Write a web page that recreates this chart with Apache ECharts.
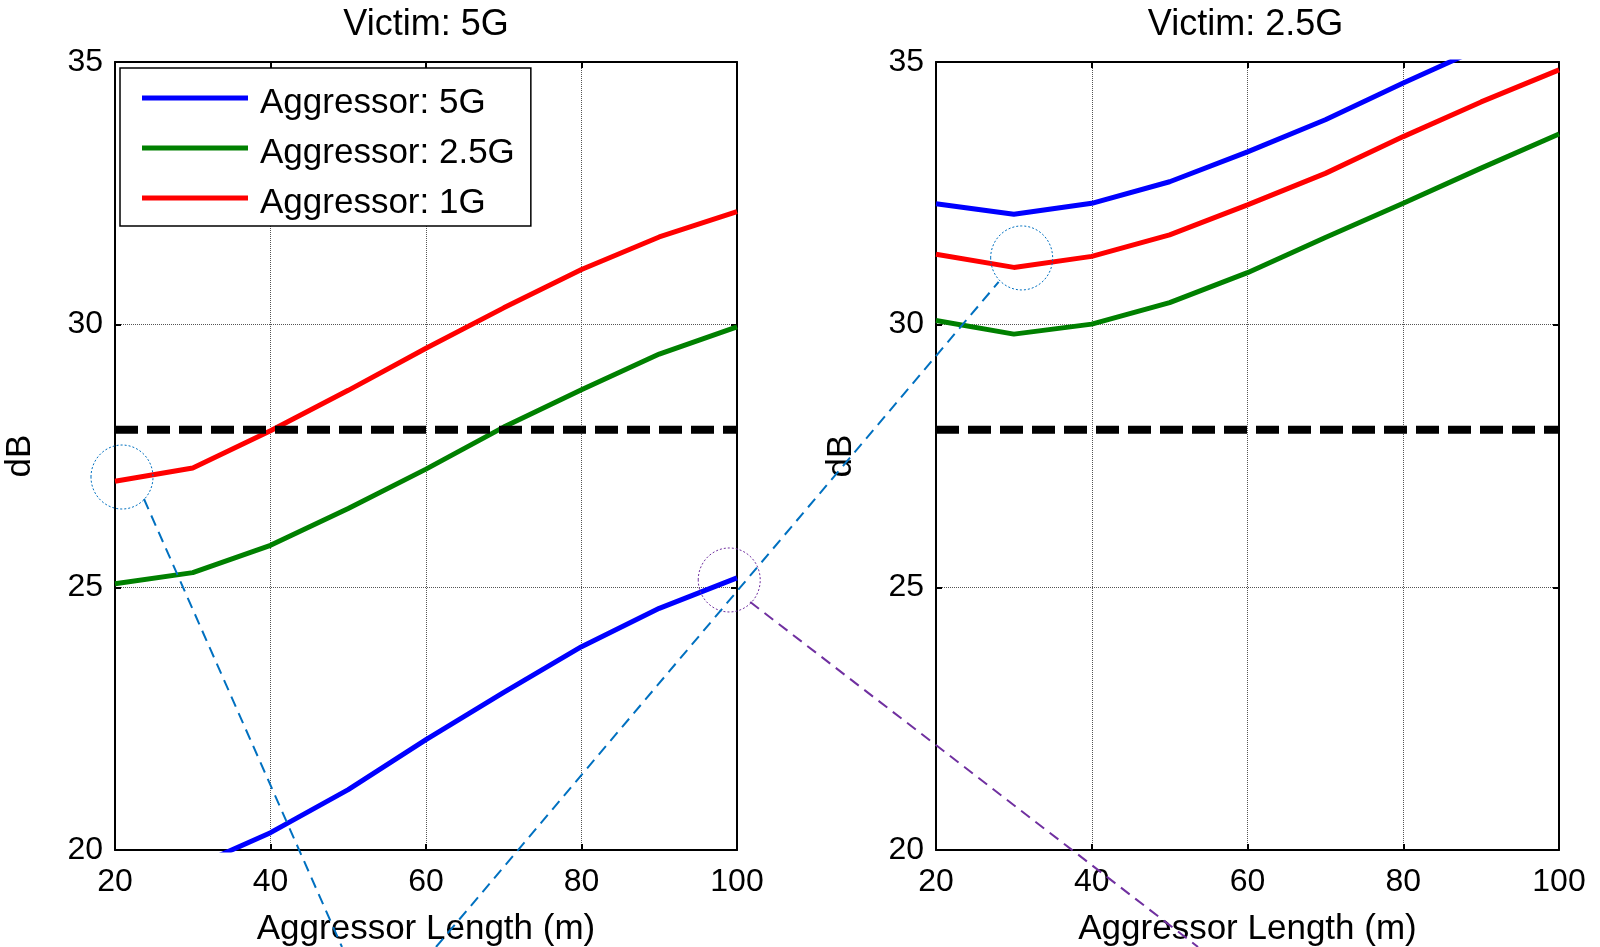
<!DOCTYPE html>
<html>
<head>
<meta charset="utf-8" />
<title>Victim / Aggressor</title>
<script src="https://cdn.jsdelivr.net/npm/echarts@6/dist/echarts.min.js"></script>
<style>
  html, body { margin: 0; padding: 0; background: #fff; }
  #chartmain { width: 1600px; height: 947px; }
</style>
</head>
<body>
<div id="chartmain"></div>
<script>
// aggressor length (m)
var lengths = [20, 30, 40, 50, 60, 70, 80, 90, 100];
var names = ['Aggressor: 5G', 'Aggressor: 2.5G', 'Aggressor: 1G'];
var titles = ['Victim: 5G', 'Victim: 2.5G'];

// victim 5G (dB)
var v5Agg5 = [19.0, 19.67, 20.33, 21.15, 22.1, 23.0, 23.87, 24.6, 25.18];
var v5Agg25 = [25.07, 25.28, 25.8, 26.5, 27.25, 28.05, 28.76, 29.44, 29.96];
var v5Agg1 = [27.02, 27.27, 27.98, 28.75, 29.55, 30.32, 31.05, 31.67, 32.15];

// victim 2.5G (dB)
var v25Agg5 = [32.3, 32.1, 32.31, 32.72, 33.29, 33.9, 34.6, 35.27, 35.9];
var v25Agg25 = [30.08, 29.82, 30.01, 30.42, 30.99, 31.66, 32.31, 32.98, 33.63];
var v25Agg1 = [31.34, 31.09, 31.3, 31.71, 32.28, 32.88, 33.58, 34.24, 34.85];

var limit = 28; // 28 dB spec line

var xMin = 20, xMax = 100, xStep = 20;
var yMin = 20, yMax = 35, yStep = 5;

// annotation circles: [grid, x, y]
var marks = [[0, 20.9, 27.1], [1, 31.0, 31.27], [0, 99.0, 25.14]];

var font = 'Liberation Sans, Arial, sans-serif';
var colors = ['#0000ff', '#008000', '#ff0000'];
// legend swatch: 106 x 34 box, 5px bar a little above the middle
var swatch = 'path://M0,0L1,0L1,0Z M0,34L1,34L1,34Z M0,9L106,9L106,14L0,14Z';

function pair(xs, ys) {
	return xs.map(function (x, i) { return [x, ys[i]]; });
}

var grids = [
	{ left: 115, top: 62, width: 622, height: 788, outerBoundsMode: 'none' },
	{ left: 936, top: 62, width: 623, height: 788, outerBoundsMode: 'none' }
];

var xAxis = [], yAxis = [];
grids.forEach(function (g, i) {
	var tick = { show: true, inside: true, length: 6, lineStyle: { color: '#000', width: 2 } };
	var line = { show: true, onZero: false, lineStyle: { color: '#000', width: 2 } };
	xAxis.push({
		type: 'value', gridIndex: i, min: xMin, max: xMax, interval: xStep, position: 'bottom',
		name: 'Aggressor Length (m)', nameLocation: 'middle', nameGap: 62,
		nameTextStyle: { fontSize: 35, color: '#000', fontFamily: font },
		axisLine: line, axisTick: tick,
		axisLabel: { fontSize: 32, color: '#000', fontFamily: font, margin: 16 },
		splitLine: { show: true, lineStyle: { type: 'dotted', color: '#555', width: 1 } }
	});
	xAxis.push({
		type: 'value', gridIndex: i, min: xMin, max: xMax, interval: xStep, position: 'top',
		axisLine: line, axisTick: tick, axisLabel: { show: false }, splitLine: { show: false }
	});
	yAxis.push({
		type: 'value', gridIndex: i, min: yMin, max: yMax, interval: yStep, position: 'left',
		name: 'dB', nameLocation: 'middle', nameGap: 77, nameRotate: 90,
		nameTextStyle: { fontSize: 35, color: '#000', fontFamily: font },
		axisLine: line, axisTick: tick,
		axisLabel: { fontSize: 32, color: '#000', fontFamily: font, margin: 12 },
		splitLine: { show: true, lineStyle: { type: 'dotted', color: '#555', width: 1 } }
	});
	yAxis.push({
		type: 'value', gridIndex: i, min: yMin, max: yMax, interval: yStep, position: 'right',
		axisLine: line, axisTick: tick, axisLabel: { show: false }, splitLine: { show: false }
	});
});

var panels = [[v5Agg5, v5Agg25, v5Agg1], [v25Agg5, v25Agg25, v25Agg1]];
var series = [];
panels.forEach(function (sets, p) {
	sets.forEach(function (ys, k) {
		series.push({
			name: names[k], type: 'line', xAxisIndex: p * 2, yAxisIndex: p * 2,
			data: pair(lengths, ys), symbol: 'none', color: colors[k],
			lineStyle: { width: 5, color: colors[k] }, clip: true, silent: true
		});
	});
	series.push({
		name: 'limit', type: 'line', xAxisIndex: p * 2, yAxisIndex: p * 2,
		data: [[lengths[0], limit], [lengths[lengths.length - 1], limit]],
		symbol: 'none', color: '#000',
		lineStyle: { width: 8, color: '#000', type: [23, 9], cap: 'butt' }, silent: true
	});
});

var myChart = echarts.init(document.getElementById('chartmain'));
var option = {
	animation: false,
	backgroundColor: '#fff',
	title: titles.map(function (t, i) {
		return {
			text: t, left: grids[i].left + grids[i].width / 2 - 2 * i, top: 7, padding: 0,
			textAlign: 'center',
			textStyle: { fontSize: 36, fontWeight: 'normal', color: '#000', fontFamily: font }
		};
	}),
	legend: {
		data: names.map(function (n) { return { name: n, icon: swatch }; }),
		orient: 'vertical', left: 120, top: 68,
		padding: [18, 16, 5, 22], itemGap: 15, itemWidth: 106, itemHeight: 34,
		itemStyle: { borderWidth: 0 },
		borderColor: '#000', borderWidth: 1.5, backgroundColor: '#fff',
		textStyle: { fontSize: 35, color: '#000', fontFamily: font, padding: [0, 0, 0, 7] },
		selectedMode: false
	},
	grid: grids,
	xAxis: xAxis,
	yAxis: yAxis,
	series: series
};
myChart.setOption(option);

// dotted circles and dashed call-out lines drawn over the plots
var c = marks.map(function (m) {
	return myChart.convertToPixel({ gridIndex: m[0] }, [m[1], m[2]]);
});
var blue = '#0070C0', purple = '#7030A0';
var H = 947;
myChart.setOption({
	graphic: [
		{ type: 'ellipse', z: 100, shape: { cx: c[0][0], cy: c[0][1], rx: 31, ry: 32 }, style: { fill: 'none', stroke: blue, lineWidth: 1, lineDash: [2, 2] } },
		{ type: 'ellipse', z: 100, shape: { cx: c[1][0], cy: c[1][1], rx: 31, ry: 32 }, style: { fill: 'none', stroke: blue, lineWidth: 1, lineDash: [2, 2] } },
		{ type: 'ellipse', z: 100, shape: { cx: c[2][0], cy: c[2][1], rx: 31, ry: 32 }, style: { fill: 'none', stroke: purple, lineWidth: 1, lineDash: [2, 2] } },
		{ type: 'line', z: 100, shape: { x1: c[0][0] + 22, y1: c[0][1] + 22, x2: 342, y2: H }, style: { stroke: blue, lineWidth: 2, lineDash: [11, 7] } },
		{ type: 'line', z: 100, shape: { x1: 436, y1: H, x2: c[1][0] - 23, y2: c[1][1] + 24 }, style: { stroke: blue, lineWidth: 2, lineDash: [11, 7] } },
		{ type: 'line', z: 100, shape: { x1: c[2][0] + 21, y1: c[2][1] + 22, x2: 1198, y2: H }, style: { stroke: purple, lineWidth: 2, lineDash: [11, 7] } }
	]
});
</script>
</body>
</html>
